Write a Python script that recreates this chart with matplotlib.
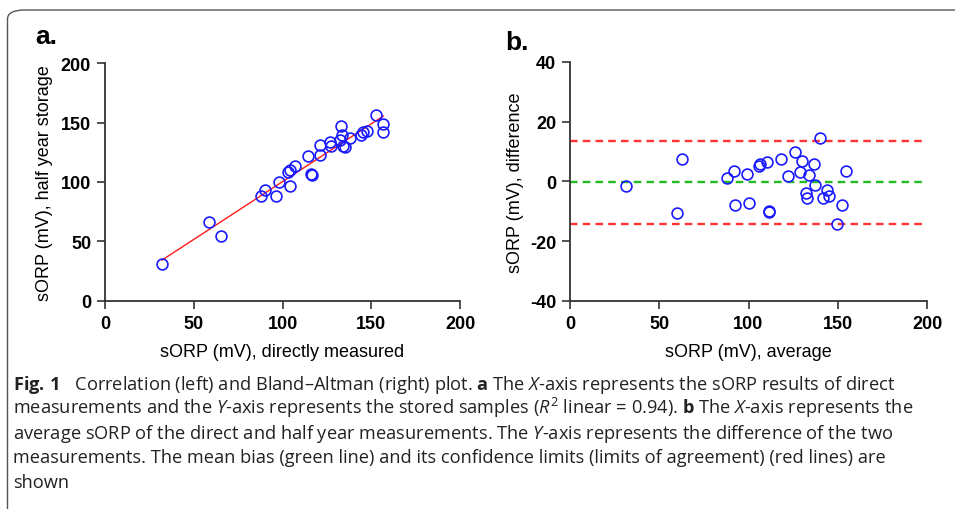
import matplotlib as mpl
import matplotlib.pyplot as plt
import numpy as np
from matplotlib import font_manager
from matplotlib.patches import FancyBboxPatch

# panel a: sORP measured directly vs after half year storage (mV)
direct = [32.1, 58.8, 65.2, 87.9, 90.0, 96.3, 97.8, 104.0, 103.3, 104.2,
          106.9, 114.2, 116.2, 116.6, 121.3, 121.3, 126.6, 127.2, 133.0, 133.7,
          132.6, 133.9, 135.2, 138.0, 144.4, 145.5, 147.4, 152.7, 156.4, 156.8]
stored = [30.7, 66.0, 54.8, 88.5, 93.5, 88.5, 100.3, 96.9, 108.7, 109.9,
          113.5, 121.6, 106.5, 106.3, 131.2, 123.0, 133.4, 130.6, 147.4, 139.9,
          135.1, 130.3, 129.8, 136.8, 139.6, 142.4, 142.7, 156.4, 148.6, 142.4]

# panel b: Bland-Altman (average vs difference)
average = [31.2, 59.9, 62.6, 88.1, 91.9, 92.6, 99.0, 100.5, 105.7, 106.6,
           110.2, 111.3, 111.7, 118.0, 122.1, 126.2, 128.9, 130.0, 132.2, 132.8,
           133.9, 136.5, 137.3, 140.2, 141.6, 144.2, 145.1, 149.6, 152.6, 154.8]
difference = [-1.6, -10.7, 7.4, 1.0, 3.5, -7.8, 2.5, -7.1, 5.2, 5.7,
              6.5, -10.0, -10.4, 7.5, 1.7, 9.7, 3.0, 6.7, -3.9, -5.5,
              2.1, 5.7, -1.1, 14.4, -5.7, -3.0, -4.8, -14.4, -7.9, 3.6]
mean_bias = -0.2
limits = [13.5, -14.3]

a_ticks = [0, 50, 100, 150, 200]
b_yticks = [-40, -20, 0, 20, 40]

caption_lines = [
    r"$\mathbf{Fig.\,1}$   Correlation (left) and Bland–Altman (right) plot. $\mathbf{a}$ The $\mathit{X}$-axis represents the sORP results of direct",
    r"measurements and the $\mathit{Y}$-axis represents the stored samples ($\mathit{R}^{2}$ linear = 0.94). $\mathbf{b}$ The $\mathit{X}$-axis represents the",
    r"average sORP of the direct and half year measurements. The $\mathit{Y}$-axis represents the difference of the two",
    r"measurements. The mean bias (green line) and its confidence limits (limits of agreement) (red lines) are",
    r"shown",
]


def pick_font(names):
    have = set(f.name for f in font_manager.fontManager.ttflist)
    for n in names:
        if n in have:
            return n
    return "DejaVu Sans"


plot_font = pick_font(["Liberation Sans", "Arial"])
cap_font = pick_font(["Open Sans", "Noto Sans", "Lato"])

mpl.rcParams["font.family"] = plot_font
mpl.rcParams["axes.unicode_minus"] = False
mpl.rcParams["mathtext.fontset"] = "custom"
mpl.rcParams["mathtext.rm"] = cap_font
mpl.rcParams["mathtext.it"] = cap_font + ":italic"
mpl.rcParams["mathtext.bf"] = cap_font + ":bold"

fig = plt.figure(figsize=(9.55, 5.1), dpi=100)

# caption frame
frame = FancyBboxPatch((7.5 / 955, -0.2), 1.2, 1.2 - 11 / 510,
                       boxstyle="round,pad=0,rounding_size=0.018",
                       transform=fig.transFigure, fill=False,
                       edgecolor="#555555", linewidth=1.0)
fig.patches.append(frame)

spine_col = "#333333"


def style_axes(ax):
    for s in ["top", "right"]:
        ax.spines[s].set_visible(False)
    for s in ["left", "bottom"]:
        ax.spines[s].set_color(spine_col)
        ax.spines[s].set_linewidth(1.3)
    ax.tick_params(direction="out", length=6, width=1.2, color=spine_col,
                   labelsize=13, pad=4)
    for lab in ax.get_xticklabels() + ax.get_yticklabels():
        lab.set_fontweight("bold")


# panel a
ax1 = fig.add_axes([105 / 955, 1 - 301.7 / 510, 355 / 955, 237.4 / 510])
ax1.set_xlim(0, 200)
ax1.set_ylim(0, 200)
ax1.set_xticks(a_ticks)
ax1.set_yticks(a_ticks)
coef = np.polyfit(direct, stored, 1)
xs = np.array([min(direct), max(direct)])
ax1.plot(xs, np.polyval(coef, xs), color="#ff1a1a", linewidth=1.0)
ax1.plot(direct, stored, linestyle="none", marker="o", markersize=7.8,
         markerfacecolor="none", markeredgecolor="#1a1aff", markeredgewidth=1.2,
         clip_on=False)
style_axes(ax1)
ax1.set_xlabel("sORP (mV), directly measured", fontsize=13, labelpad=8)
ax1.set_ylabel("sORP (mV), half year storage", fontsize=13, labelpad=6)

# panel b
ax2 = fig.add_axes([570 / 955, 1 - 302 / 510, 357 / 955, 239.3 / 510])
ax2.set_xlim(0, 200)
ax2.set_ylim(-40, 40)
ax2.set_xticks(a_ticks)
ax2.set_yticks(b_yticks)
for lim in limits:
    ax2.axhline(lim, xmax=0.985, color="#ff3333", linewidth=1.7,
                linestyle=(0, (3.2, 2.2)))
ax2.axhline(mean_bias, xmax=0.985, color="#22bb22", linewidth=1.7,
            linestyle=(0, (3.2, 2.2)))
ax2.plot(average, difference, linestyle="none", marker="o", markersize=7.8,
         markerfacecolor="none", markeredgecolor="#1a1aff", markeredgewidth=1.2,
         clip_on=False)
style_axes(ax2)
ax2.set_xlabel("sORP (mV), average", fontsize=13, labelpad=8)
ax2.set_ylabel("sORP (mV), difference", fontsize=13, labelpad=4)

# panel letters
fig.text(35 / 955, 1 - 44 / 510, "a.", fontsize=19, fontweight="bold")
fig.text(505 / 955, 1 - 50 / 510, "b.", fontsize=19, fontweight="bold")

# caption, font size fitted so the first line spans the same width as in the figure
cap_texts = []
for i, line in enumerate(caption_lines):
    t = fig.text(13 / 955, 1 - (390 + i * 24.4) / 510, line, fontsize=11.6,
                 family=cap_font, color="#222222", va="baseline")
    cap_texts.append(t)
fig.canvas.draw()
w = cap_texts[0].get_window_extent().width
new_size = 11.6 * 885 / w
for t in cap_texts:
    t.set_fontsize(new_size)

fig.savefig("out.png", dpi=100)
